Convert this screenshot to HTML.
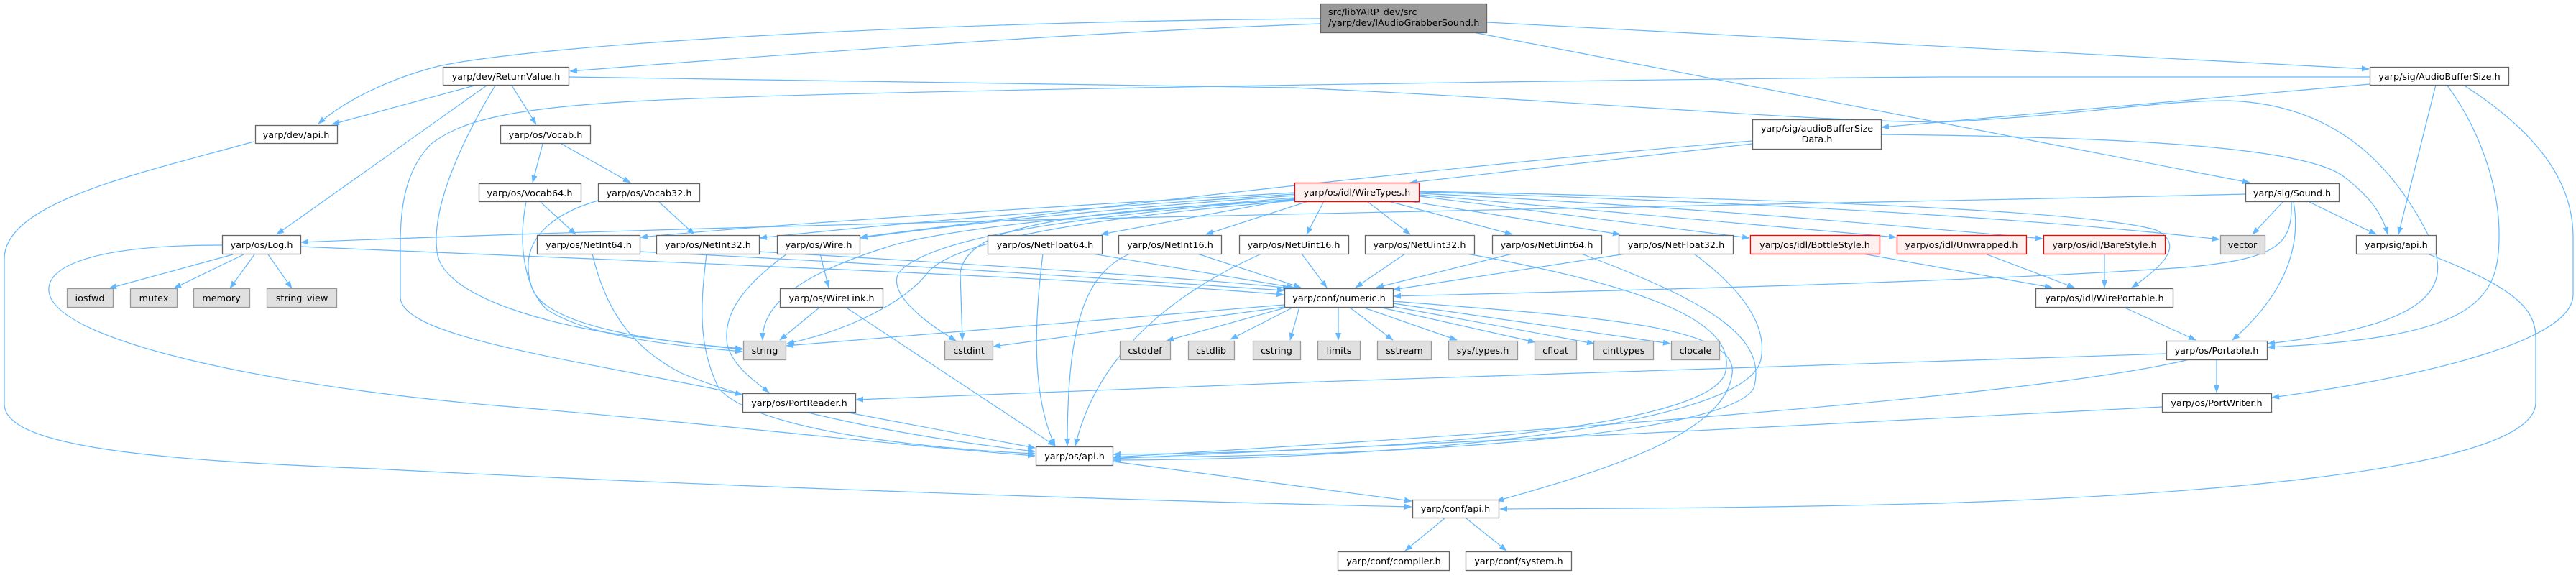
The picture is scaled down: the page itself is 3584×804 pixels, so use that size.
<!DOCTYPE html>
<html><head><meta charset="utf-8"><style>
html,body{margin:0;padding:0;background:#fff;}
body{width:3584px;height:799px;overflow:hidden;}
svg text{font-family:"DejaVu Sans","Liberation Sans",sans-serif;font-size:12.8px;fill:#000;}
</style></head><body>
<svg width="3584" height="799" viewBox="0 0 3584 799" xmlns="http://www.w3.org/2000/svg">
<defs>
<marker id="a" markerUnits="userSpaceOnUse" markerWidth="11" markerHeight="8" refX="10" refY="3.8" orient="auto">
<path d="M0,0 L10,3.8 L0,7.6 z" fill="#63b8ff" stroke="#63b8ff" stroke-width="0.5"/>
</marker>
</defs>
<rect width="3584" height="799" fill="#fff"/>
<g fill="none" stroke="#63b8ff" stroke-width="1.2" marker-end="url(#a)">
<path d="M1837,26 C1300,30 760,60 610,92 C540,110 480,140 443,172"/>
<path d="M1837,33 C1500,45 1100,75 793,99"/>
<path d="M2069,31 C2500,50 2900,72 3296,96"/>
<path d="M2050,45 L3130,254"/>
<path d="M660,119 L462,173"/>
<path d="M677,119 L385,326"/>
<path d="M689,119 C640,200 600,290 608,350 C615,420 800,460 900,470 C960,478 1000,483 1033,486"/>
<path d="M712,119 L746,173"/>
<path d="M791,107 C1300,112 1700,118 1800,122 C2200,140 2500,168 2700,170 C2900,160 3000,140 3100,140 C3250,145 3330,230 3380,330 C3420,410 3360,455 3155,478"/>
<path d="M353,197 C200,240 6,280 6,360 L6,562 C6,620 200,640 520,652 C900,672 1500,695 1964,705"/>
<path d="M755,200 L741,254"/>
<path d="M781,200 L877,254"/>
<path d="M752,281 L801,326"/>
<path d="M732,281 C720,340 730,400 760,430 C820,470 950,482 1033,489"/>
<path d="M917,281 L966,326"/>
<path d="M832,279 C760,300 720,340 740,400 C760,460 950,478 1033,485"/>
<path d="M324,354 L152,401"/>
<path d="M339,354 L242,401"/>
<path d="M354,354 L320,401"/>
<path d="M373,354 L406,401"/>
<path d="M309,341 C100,341 60,380 69,410 C90,480 400,540 700,565 C1000,590 1250,620 1440,634"/>
<path d="M418,343 C800,360 1500,385 1786,410"/>
<path d="M3297,117 L2618,177"/>
<path d="M3389,118 L3337,326"/>
<path d="M3405,119 C3450,180 3478,260 3477,330 C3477,420 3440,470 3155,483"/>
<path d="M3427,118 C3540,190 3580,260 3580,330 L3580,410 C3580,470 3400,520 3161,553"/>
<path d="M3297,107 L2700,107 C2300,110 1200,125 900,140 C700,150 640,170 600,200 C560,240 557,300 557,340 L557,414 C560,470 800,500 1033,549"/>
<path d="M2438,200 L1962,254"/>
<path d="M2438,196 C2200,215 1700,265 1197,330"/>
<path d="M2617,187 C2900,190 3200,200 3260,245 C3300,275 3315,300 3322,326"/>
<path d="M3176,281 L3134,326"/>
<path d="M3213,281 L3306,326"/>
<path d="M3191,281 C3200,330 3190,400 3106,473"/>
<path d="M3124,270 C2500,285 1200,305 419,337"/>
<path d="M3188,281 C3190,340 3170,360 3040,372 C2700,395 2200,405 1939,412"/>
<path d="M1842,280 L1818,326"/>
<path d="M1902,280 L1962,326"/>
<path d="M1932,280 L2104,326"/>
<path d="M1961,280 L2254,326"/>
<path d="M1975,273 L2434,331"/>
<path d="M1975,271 L2638,330"/>
<path d="M1975,269 C2300,285 2600,310 2842,332"/>
<path d="M1975,267 C2400,280 2800,300 3088,333"/>
<path d="M1975,266 C2400,275 2900,290 3000,320 C3040,340 3010,370 2966,400"/>
<path d="M1801,268 C1500,285 1100,310 891,330"/>
<path d="M1801,270 C1500,290 1250,310 1057,331"/>
<path d="M1801,272 C1550,290 1350,310 1197,331"/>
<path d="M1801,276 L1532,326"/>
<path d="M1820,280 L1678,326"/>
<path d="M1801,275 C1500,300 1300,320 1230,345 C1120,380 1060,420 1061,473"/>
<path d="M1801,278 C1500,295 1345,310 1336,380 L1339,473"/>
<path d="M1801,279 C1550,300 1330,330 1290,380 C1260,420 1180,460 1095,478"/>
<path d="M1801,277 C1500,300 1290,330 1250,380 C1235,410 1290,450 1330,474"/>
<path d="M890,350 C1300,370 1600,392 1787,404"/>
<path d="M824,353 C840,420 870,480 950,520 C1100,580 1300,612 1440,628"/>
<path d="M1056,350 C1400,370 1700,390 1795,401"/>
<path d="M983,353 C975,420 970,480 1000,540 C1050,600 1300,625 1440,631"/>
<path d="M1141,353 L1153,400"/>
<path d="M1095,353 C1030,400 1005,440 1012,480 C1020,510 1050,530 1070,546"/>
<path d="M1520,353 L1800,400"/>
<path d="M1451,353 C1443,420 1430,540 1468,620"/>
<path d="M1666,353 L1810,400"/>
<path d="M1572,353 C1510,380 1485,450 1485,620"/>
<path d="M1811,353 L1846,400"/>
<path d="M1755,353 C1650,400 1530,480 1496,620"/>
<path d="M1955,353 L1886,400"/>
<path d="M2041,353 C2300,400 2420,450 2400,520 C2370,600 1900,630 1549,632"/>
<path d="M2104,353 L1915,400"/>
<path d="M2200,353 C2380,420 2460,470 2440,540 C2400,610 1900,636 1549,636"/>
<path d="M2262,353 L1938,403"/>
<path d="M2357,353 C2420,400 2460,450 2450,500 C2430,600 1900,640 1549,640"/>
<path d="M1141,427 L1085,473"/>
<path d="M1176,427 L1468,620"/>
<path d="M1787,424 L1094,481"/>
<path d="M1787,427 L1382,482"/>
<path d="M1792,427 L1623,474"/>
<path d="M1800,427 L1712,472"/>
<path d="M1808,427 L1795,473"/>
<path d="M1862,427 L1862,473"/>
<path d="M1877,427 L1938,473"/>
<path d="M1895,427 L2027,473"/>
<path d="M1918,427 L2136,476"/>
<path d="M1936,426 L2218,478"/>
<path d="M1938,422 L2324,478"/>
<path d="M1938,419 C2200,440 2420,450 2410,520 C2400,600 2250,650 2082,697"/>
<path d="M2592,353 L2855,400"/>
<path d="M2762,353 L2886,400"/>
<path d="M2928,353 L2928,400"/>
<path d="M2954,427 L3055,473"/>
<path d="M3084,500 L3084,546"/>
<path d="M3014,492 C2600,505 1800,530 1191,556"/>
<path d="M3046,500 C2800,560 1900,615 1549,636"/>
<path d="M3008,566 C2600,585 1900,625 1549,638"/>
<path d="M1175,573 L1440,623"/>
<path d="M1549,642 L1964,697"/>
<path d="M3377,353 C3500,400 3528,430 3528,470 L3528,560 C3528,660 3000,690 2700,700 C2400,708 2200,707 2087,708"/>
<path d="M2010,721 L1955,766"/>
<path d="M2040,721 L2096,766"/>
</g>

<!-- top node -->
<rect x="1837.5" y="5.5" width="231" height="40" fill="#999999" stroke="#666666" stroke-width="1.3"/>
<text x="1848" y="21">src/libYARP_dev/src</text>
<text x="1848" y="36">/yarp/dev/IAudioGrabberSound.h</text>

<!-- normal nodes -->
<g fill="#ffffff" stroke="#666666" stroke-width="1.3">
<rect x="616.5" y="93.5" width="175" height="25"/>
<rect x="3297.5" y="93.5" width="193" height="25"/>
<rect x="355.5" y="174.5" width="114" height="25"/>
<rect x="696.5" y="174.5" width="125" height="25"/>
<rect x="2438.5" y="166.5" width="179" height="41"/>
<rect x="666.5" y="255.5" width="142" height="25"/>
<rect x="832.5" y="255.5" width="141" height="25"/>
<rect x="3124.5" y="255.5" width="130" height="25"/>
<rect x="309.5" y="327.5" width="109" height="26"/>
<rect x="747.5" y="327.5" width="143" height="26"/>
<rect x="913.5" y="327.5" width="143" height="26"/>
<rect x="1081.5" y="327.5" width="115" height="26"/>
<rect x="1374.5" y="327.5" width="159" height="26"/>
<rect x="1556.5" y="327.5" width="143" height="26"/>
<rect x="1724.5" y="327.5" width="152" height="26"/>
<rect x="1899.5" y="327.5" width="152" height="26"/>
<rect x="2076.5" y="327.5" width="152" height="26"/>
<rect x="2252.5" y="327.5" width="159" height="26"/>
<rect x="3278.5" y="327.5" width="111" height="26"/>
<rect x="1085.5" y="401.5" width="143" height="26"/>
<rect x="1787.5" y="401.5" width="151" height="26"/>
<rect x="2832.5" y="401.5" width="191" height="26"/>
<rect x="3014.5" y="474.5" width="140" height="26"/>
<rect x="1033.5" y="547.5" width="157" height="26"/>
<rect x="3008.5" y="547.5" width="152" height="26"/>
<rect x="1441.5" y="621.5" width="107" height="26"/>
<rect x="1965.5" y="695.5" width="120" height="25"/>
<rect x="1861.5" y="767.5" width="155" height="26"/>
<rect x="2039.5" y="767.5" width="147" height="26"/>
</g>
<!-- red nodes -->
<g fill="#fff0f0" stroke="#ff0000" stroke-width="1.3">
<rect x="1801.5" y="254.5" width="173" height="26"/>
<rect x="2435.5" y="327.5" width="180" height="26"/>
<rect x="2639.5" y="327.5" width="180" height="26"/>
<rect x="2843.5" y="327.5" width="169" height="26"/>
</g>
<!-- system nodes -->
<g fill="#e0e0e0" stroke="#999999" stroke-width="1.3">
<rect x="3089.5" y="327.5" width="62" height="26"/>
<rect x="93.5" y="401.5" width="64" height="26"/>
<rect x="181.5" y="401.5" width="65" height="26"/>
<rect x="269.5" y="401.5" width="78" height="26"/>
<rect x="371.5" y="401.5" width="97" height="26"/>
<rect x="1034.5" y="474.5" width="59" height="26"/>
<rect x="1314.5" y="474.5" width="67" height="26"/>
<rect x="1558.5" y="474.5" width="70" height="26"/>
<rect x="1653.5" y="474.5" width="64" height="26"/>
<rect x="1743.5" y="474.5" width="66" height="26"/>
<rect x="1833.5" y="474.5" width="59" height="26"/>
<rect x="1916.5" y="474.5" width="75" height="26"/>
<rect x="2015.5" y="474.5" width="96" height="26"/>
<rect x="2135.5" y="474.5" width="58" height="26"/>
<rect x="2217.5" y="474.5" width="83" height="26"/>
<rect x="2325.5" y="474.5" width="67" height="26"/>
</g>

<g text-anchor="middle">
<text x="704" y="111">yarp/dev/ReturnValue.h</text>
<text x="3394" y="111">yarp/sig/AudioBufferSize.h</text>
<text x="412" y="192">yarp/dev/api.h</text>
<text x="759" y="192">yarp/os/Vocab.h</text>
<text x="2528" y="183">yarp/sig/audioBufferSize</text>
<text x="2528" y="198">Data.h</text>
<text x="737" y="273">yarp/os/Vocab64.h</text>
<text x="903" y="273">yarp/os/Vocab32.h</text>
<text x="1888" y="272">yarp/os/idl/WireTypes.h</text>
<text x="3189" y="273">yarp/sig/Sound.h</text>
<text x="364" y="345">yarp/os/Log.h</text>
<text x="819" y="345">yarp/os/NetInt64.h</text>
<text x="985" y="345">yarp/os/NetInt32.h</text>
<text x="1139" y="345">yarp/os/Wire.h</text>
<text x="1454" y="345">yarp/os/NetFloat64.h</text>
<text x="1628" y="345">yarp/os/NetInt16.h</text>
<text x="1800" y="345">yarp/os/NetUint16.h</text>
<text x="1975" y="345">yarp/os/NetUint32.h</text>
<text x="2152" y="345">yarp/os/NetUint64.h</text>
<text x="2332" y="345">yarp/os/NetFloat32.h</text>
<text x="2525" y="345">yarp/os/idl/BottleStyle.h</text>
<text x="2729" y="345">yarp/os/idl/Unwrapped.h</text>
<text x="2928" y="345">yarp/os/idl/BareStyle.h</text>
<text x="3120" y="345">vector</text>
<text x="3334" y="345">yarp/sig/api.h</text>
<text x="125" y="419">iosfwd</text>
<text x="214" y="419">mutex</text>
<text x="308" y="419">memory</text>
<text x="420" y="419">string_view</text>
<text x="1157" y="419">yarp/os/WireLink.h</text>
<text x="1863" y="419">yarp/conf/numeric.h</text>
<text x="2928" y="419">yarp/os/idl/WirePortable.h</text>
<text x="1064" y="492">string</text>
<text x="1348" y="492">cstdint</text>
<text x="1593" y="492">cstddef</text>
<text x="1685" y="492">cstdlib</text>
<text x="1776" y="492">cstring</text>
<text x="1863" y="492">limits</text>
<text x="1954" y="492">sstream</text>
<text x="2063" y="492">sys/types.h</text>
<text x="2164" y="492">cfloat</text>
<text x="2259" y="492">cinttypes</text>
<text x="2359" y="492">clocale</text>
<text x="3084" y="492">yarp/os/Portable.h</text>
<text x="1112" y="565">yarp/os/PortReader.h</text>
<text x="3084" y="565">yarp/os/PortWriter.h</text>
<text x="1495" y="639">yarp/os/api.h</text>
<text x="2025" y="712">yarp/conf/api.h</text>
<text x="1939" y="785">yarp/conf/compiler.h</text>
<text x="2113" y="785">yarp/conf/system.h</text>
</g>
</svg>
</body></html>
